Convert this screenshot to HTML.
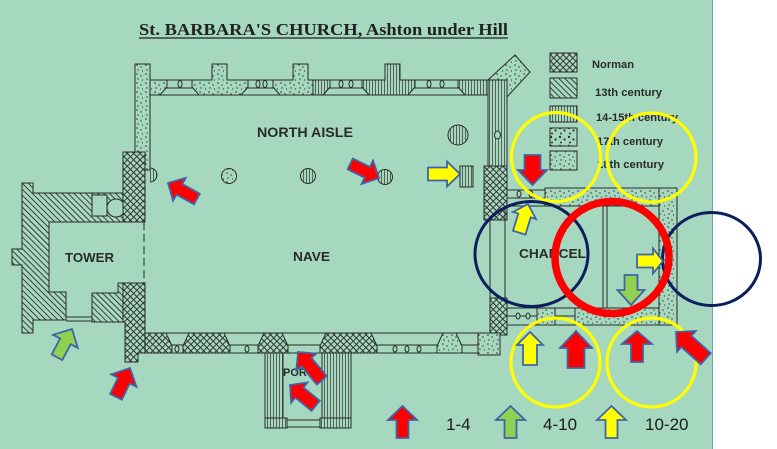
<!DOCTYPE html>
<html><head><meta charset="utf-8"><style>html,body{margin:0;padding:0;background:#fff}svg{display:block}</style></head>
<body>
<svg width="777" height="449" viewBox="0 0 777 449" xmlns="http://www.w3.org/2000/svg">
<defs>
<pattern id="cr" width="4.5" height="4.5" patternUnits="userSpaceOnUse" patternTransform="rotate(45)">
<rect width="4.5" height="4.5" fill="#a5d8bf"/>
<path d="M0 0.5H4.5M0.5 0V4.5" stroke="#2f2f2f" stroke-width="0.9"/>
</pattern>
<pattern id="dg" width="4.2" height="4.2" patternUnits="userSpaceOnUse" patternTransform="rotate(45)">
<rect width="4.2" height="4.2" fill="#a5d8bf"/>
<path d="M0 0.5H4.2" stroke="#2f2f2f" stroke-width="0.9"/>
</pattern>
<pattern id="vt" width="3" height="3" patternUnits="userSpaceOnUse">
<rect width="3" height="3" fill="#a5d8bf"/>
<path d="M0.5 0V3" stroke="#2f2f2f" stroke-width="0.7"/>
</pattern>
<pattern id="dt" width="9" height="9" patternUnits="userSpaceOnUse">
<rect width="9" height="9" fill="#a5d8bf"/>
<g fill="#333"><circle cx="2" cy="2" r="0.8"/><circle cx="6" cy="4" r="0.7"/><circle cx="3" cy="7" r="0.7"/><circle cx="7.5" cy="8" r="0.6"/></g>
</pattern>
<pattern id="dt2" width="9" height="9" patternUnits="userSpaceOnUse">
<rect width="9" height="9" fill="#a5d8bf"/>
<g fill="#333"><circle cx="2" cy="2" r="1.2"/><circle cx="6.5" cy="4.5" r="1.1"/><circle cx="3" cy="7.5" r="1"/></g>
</pattern>
</defs>

<rect width="777" height="449" fill="#fff"/>
<rect width="712" height="449" fill="#a5d8bf"/>
<line x1="712.5" y1="0" x2="712.5" y2="449" stroke="#7a9cbc" stroke-width="1"/>

<!-- Title -->
<text x="139" y="35" font-family="Liberation Serif, serif" font-weight="bold" font-size="17" fill="#222" textLength="369" lengthAdjust="spacingAndGlyphs">St. BARBARA'S CHURCH, Ashton under Hill</text>
<line x1="139" y1="38" x2="508" y2="38" stroke="#222" stroke-width="1.2"/>

<g stroke="#2a2a2a" stroke-width="1">
<!-- Tower -->
<polygon points="22,183 33,183 33,193 123,193 123,222 49,222 49,292 66,292 66,320 33,320 33,333 22,333 22,265 12,265 12,249 22,249" fill="url(#dg)"/>
<rect x="92" y="195" width="15" height="21" fill="#a5d8bf"/>
<circle cx="116" cy="208" r="9" fill="#a5d8bf"/>
<polygon points="92,293 118,293 118,283 123,283 123,322 92,322" fill="url(#dg)"/>
<line x1="66" y1="317" x2="92" y2="317"/><line x1="66" y1="321" x2="92" y2="321"/>

<!-- west wall north aisle + Norman -->
<rect x="135" y="64" width="15" height="106" fill="url(#dt)"/>
<rect x="123" y="152" width="22" height="70" fill="url(#cr)"/>
<polygon points="123,283 145,283 145,353 138,353 138,362 125,362 125,322 123,322" fill="url(#cr)"/>
<line x1="144" y1="222" x2="144" y2="283" stroke-dasharray="8 4"/>
<path d="M150 168 A7 7 0 0 1 150 182" fill="url(#vt)"/>

<!-- north wall lines -->
<line x1="150" y1="80" x2="488" y2="80"/>
<line x1="150" y1="88" x2="488" y2="88"/>
<line x1="150" y1="95" x2="488" y2="95"/>
<!-- north wall segments -->
<polygon points="150,80 167,80 167,87 160,95 150,95" fill="url(#dt)"/>
<polygon points="192,80 212,80 212,64 227,64 227,80 248,80 248,87 241,95 199,95 192,87" fill="url(#dt)"/>
<polygon points="273,80 293,80 293,64 308,64 308,80 330,80 330,87 323,95 280,95 273,87" fill="url(#dt)"/>
<polygon points="313,80 330,80 330,87 323,95 313,95" fill="url(#vt)"/>
<polygon points="362,80 385,80 385,64 400,64 400,80 415,80 415,87 408,95 369,95 362,87" fill="url(#vt)"/>
<polygon points="458,80 488,80 488,95 465,95 458,87" fill="url(#vt)"/>
<g fill="#a5d8bf">
<ellipse cx="180" cy="84" rx="2" ry="3.5"/>
<ellipse cx="258" cy="84" rx="2" ry="3.5"/><ellipse cx="265" cy="84" rx="2" ry="3.5"/>
<ellipse cx="341" cy="84" rx="2" ry="3.5"/><ellipse cx="351" cy="84" rx="2" ry="3.5"/>
<ellipse cx="429" cy="84" rx="2" ry="3.5"/><ellipse cx="442" cy="84" rx="2" ry="3.5"/>
</g>
<!-- NE corner -->
<polygon points="488,80 515,55 530,72 507,97" fill="url(#dt)"/>
<rect x="488" y="80" width="19" height="86" fill="url(#vt)"/>
<ellipse cx="497.5" cy="135" rx="3" ry="4" fill="#a5d8bf"/>
<rect x="484" y="166" width="23" height="54" fill="url(#cr)"/>
<rect x="460" y="166" width="13" height="21" fill="url(#vt)"/>

<!-- piers -->
<circle cx="229" cy="176" r="7.5" fill="url(#dt)"/>
<circle cx="308" cy="176" r="7.5" fill="url(#vt)"/>
<circle cx="385" cy="177" r="7.5" fill="url(#vt)"/>
<circle cx="458" cy="135" r="10" fill="url(#vt)"/>

<!-- Chancel -->
<line x1="507" y1="190" x2="545" y2="190"/><line x1="507" y1="198" x2="545" y2="198"/>
<ellipse cx="519" cy="194" rx="2" ry="3" fill="#a5d8bf"/><ellipse cx="531" cy="194" rx="2" ry="3" fill="#a5d8bf"/>
<rect x="545" y="188" width="132" height="18" fill="url(#dt)"/>
<rect x="659" y="188" width="18" height="137" fill="url(#dt)"/>
<rect x="505" y="206" width="154" height="102" fill="none"/>
<line x1="603" y1="206" x2="603" y2="308"/><line x1="607" y1="206" x2="607" y2="308"/>
<line x1="490" y1="220" x2="490" y2="298"/>
<rect x="537" y="308" width="18" height="17" fill="url(#dt)"/>
<rect x="575" y="308" width="84" height="17" fill="url(#dt)"/>
<line x1="507" y1="316" x2="537" y2="316"/><line x1="555" y1="316" x2="575" y2="316"/>
<line x1="507" y1="325" x2="575" y2="325"/>
<ellipse cx="518" cy="316" rx="2" ry="3" fill="#a5d8bf"/><ellipse cx="528" cy="316" rx="2" ry="3" fill="#a5d8bf"/>
<rect x="490" y="298" width="17" height="37" fill="url(#cr)"/>
<rect x="478" y="333" width="22" height="22" fill="url(#dt)"/>

<!-- Nave south wall -->
<line x1="145" y1="333" x2="490" y2="333"/>
<line x1="138" y1="353" x2="478" y2="353"/>
<line x1="145" y1="345" x2="478" y2="345"/>
<polygon points="145,333 166,333 172,346 172,353 145,353" fill="url(#cr)"/>
<polygon points="189,333 224,333 230,346 230,353 183,353 183,346" fill="url(#cr)"/>
<polygon points="264,333 282,333 288,346 288,353 258,353 258,346" fill="url(#cr)"/>
<polygon points="326,333 371,333 377,346 377,353 320,353 320,346" fill="url(#cr)"/>
<polygon points="443,333 456,333 462,346 462,353 437,353 437,346" fill="url(#dt)"/>
<g fill="#a5d8bf">
<ellipse cx="177" cy="349" rx="2" ry="3"/><ellipse cx="247" cy="349" rx="2" ry="3"/>
<ellipse cx="395" cy="349" rx="2" ry="3"/><ellipse cx="407" cy="349" rx="2" ry="3"/><ellipse cx="419" cy="349" rx="2" ry="3"/>
</g>

<!-- Porch -->
<rect x="265" y="353" width="18" height="75" fill="url(#vt)"/>
<rect x="322" y="353" width="29" height="75" fill="url(#vt)"/>
<rect x="265" y="418" width="22" height="10" fill="url(#vt)"/>
<rect x="320" y="418" width="31" height="10" fill="url(#vt)"/>
<line x1="287" y1="420" x2="320" y2="420"/><line x1="287" y1="427" x2="320" y2="427"/>
<line x1="283" y1="353" x2="322" y2="353"/>

<!-- Legend boxes -->
<rect x="550" y="53" width="27" height="19" fill="url(#cr)"/>
<rect x="550" y="78" width="27" height="20" fill="url(#dg)"/>
<rect x="550" y="106" width="27" height="16" fill="url(#vt)"/>
<rect x="550" y="128" width="27" height="18" fill="url(#dt2)"/>
<rect x="550" y="151" width="27" height="19" fill="url(#dt)"/>
</g>

<!-- labels -->
<g font-family="Liberation Sans, sans-serif" font-weight="bold" fill="#2a2a2a">
<text x="257" y="137" font-size="14" textLength="96" lengthAdjust="spacingAndGlyphs">NORTH AISLE</text>
<text x="65" y="262" font-size="13" textLength="49" lengthAdjust="spacingAndGlyphs">TOWER</text>
<text x="293" y="261" font-size="13" textLength="37" lengthAdjust="spacingAndGlyphs">NAVE</text>
<text x="519" y="258" font-size="13" textLength="67" lengthAdjust="spacingAndGlyphs">CHANCEL</text>
<text x="283" y="376" font-size="11">POR</text>
<text x="592" y="68" font-size="11" textLength="42" lengthAdjust="spacingAndGlyphs">Norman</text>
<text x="595" y="96" font-size="11" textLength="67" lengthAdjust="spacingAndGlyphs">13th century</text>
<text x="596" y="121" font-size="11" textLength="82" lengthAdjust="spacingAndGlyphs">14-15th century</text>
<text x="597" y="145" font-size="11" textLength="66" lengthAdjust="spacingAndGlyphs">17th century</text>
<text x="597" y="168" font-size="11" textLength="67" lengthAdjust="spacingAndGlyphs">18th century</text>
</g>
<g font-family="Liberation Sans, sans-serif" font-size="17" fill="#1a1a1a">
<text x="446" y="430">1-4</text>
<text x="543" y="430">4-10</text>
<text x="645" y="430">10-20</text>
</g>

<!-- circles -->
<g fill="none" stroke="#ffff00" stroke-width="3.2">
<circle cx="556" cy="157" r="44.5"/>
<circle cx="651.5" cy="157.5" r="44.5"/>
<circle cx="555.5" cy="362.5" r="44.5"/>
<circle cx="651.5" cy="362.5" r="44.5"/>
</g>
<g fill="none" stroke="#0c1f5c" stroke-width="3">
<ellipse cx="531.5" cy="254" rx="56.5" ry="52.5"/>
<ellipse cx="711.5" cy="259" rx="49" ry="46.5"/>
</g>
<ellipse cx="612" cy="257.5" rx="57" ry="56" fill="none" stroke="#ff0000" stroke-width="7.5"/>

<!-- arrows -->
<g stroke="#3f64a8" stroke-width="1.8" stroke-linejoin="miter">
<polygon fill="#ff0000" transform="translate(402.5,406)" points="0,0 14.5,14 6,14 6,32 -6,32 -6,14 -14.5,14"/>
<polygon fill="#92d050" transform="translate(510.5,406)" points="0,0 14.5,14 6,14 6,32 -6,32 -6,14 -14.5,14"/>
<polygon fill="#ffff00" transform="translate(611.5,406)" points="0,0 14.5,14 6,14 6,32 -6,32 -6,14 -14.5,14"/>

<polygon fill="#ff0000" transform="translate(168,183) rotate(-61)" points="0,0 13,13 6,13 6,33 -6,33 -6,13 -13,13"/>
<polygon fill="#ff0000" transform="translate(379,178) rotate(116)" points="0,0 13,13 6,13 6,32 -6,32 -6,13 -13,13"/>
<polygon fill="#ff0000" transform="translate(532.5,185) rotate(180)" points="0,0 14.5,15 8,15 8,30 -8,30 -8,15 -14.5,15"/>
<polygon fill="#ffff00" transform="translate(460,174) rotate(90)" points="0,0 12.5,13 6.5,13 6.5,32 -6.5,32 -6.5,13 -12.5,13"/>
<polygon fill="#ffff00" transform="translate(528,204) rotate(17)" points="0,0 12,12 6.5,12 6.5,30 -6.5,30 -6.5,12 -12,12"/>
<polygon fill="#ffff00" transform="translate(663,261) rotate(90)" points="0,0 12.5,10 6.5,10 6.5,26 -6.5,26 -6.5,10 -12.5,10"/>
<polygon fill="#92d050" transform="translate(631,305) rotate(180)" points="0,0 13.5,15 6.5,15 6.5,30 -6.5,30 -6.5,15 -13.5,15"/>
<polygon fill="#ff0000" transform="translate(576,331)" points="0,0 16,17 8.5,17 8.5,37 -8.5,37 -8.5,17 -16,17"/>
<polygon fill="#ff0000" transform="translate(637,331)" points="0,0 15,13 6,13 6,31 -6,31 -6,13 -15,13"/>
<polygon fill="#ffff00" transform="translate(530,332)" points="0,0 13,13 7,13 7,33 -7,33 -7,13 -13,13"/>
<polygon fill="#ff0000" transform="translate(676,332) rotate(-48)" points="0,0 14,14 7.5,14 7.5,40 -7.5,40 -7.5,14 -14,14"/>
<polygon fill="#ff0000" transform="translate(130,368) rotate(26)" points="0,0 14,14 6.5,14 6.5,32 -6.5,32 -6.5,14 -14,14"/>
<polygon fill="#92d050" transform="translate(72,329) rotate(28)" points="0,0 14,14 6,14 6,32 -6,32 -6,14 -14,14"/>
<polygon fill="#ff0000" transform="translate(298,352) rotate(-40)" points="0,0 13,13 6.5,13 6.5,37 -6.5,37 -6.5,13 -13,13"/>
<polygon fill="#ff0000" transform="translate(290,385) rotate(-51)" points="0,0 13,12 6.5,12 6.5,33 -6.5,33 -6.5,12 -13,12"/>
</g>
</svg>
</body></html>
